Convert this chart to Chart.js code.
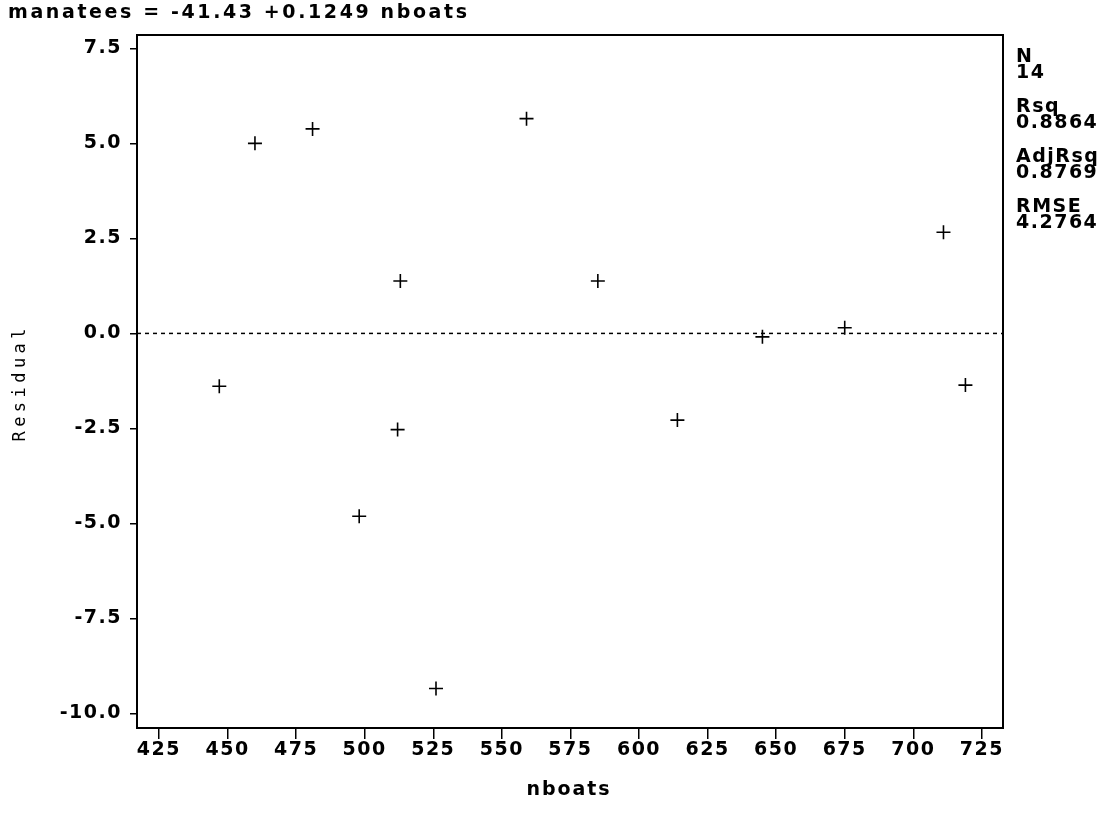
<!DOCTYPE html>
<html>
<head>
<meta charset="utf-8">
<script src="https://cdn.jsdelivr.net/npm/chart.js@4/dist/chart.umd.min.js"></script>
<style>
html,body{margin:0;padding:0;background:#fff;}
canvas{display:block;}
</style>
</head>
<body>
<canvas id="c" width="1111" height="831"></canvas>
<script>
// ---- data ----
const nboats   = [447, 460, 481, 498, 513, 512, 526, 559, 585, 614, 645, 675, 711, 719];
const residual = [-1.39, 5.00, 5.38, -4.81, 1.38, -2.53, -9.34, 5.65, 1.38, -2.28, -0.09, 0.15, 2.66, -1.36];
const xTicks = [425, 450, 475, 500, 525, 550, 575, 600, 625, 650, 675, 700, 725];
const yTicks = [-10, -7.5, -5, -2.5, 0, 2.5, 5, 7.5];
const titleText = 'manatees = -41.43 +0.1249 nboats';
const xTitle = 'nboats';
const yTitle = 'Residual';
const statLabels = ['N', '14', 'Rsq', '0.8864', 'AdjRsq', '0.8769', 'RMSE', '4.2764'];

const BOLD = 'bold 19px "DejaVu Sans"';

function spacedText(ctx, text, x, y, font, target, align) {
  ctx.save();
  ctx.font = font;
  ctx.letterSpacing = '0px';
  const w = ctx.measureText(text).width;
  const n = text.length;
  const ls = target != null ? (target - w) / Math.max(n - 1, 1) : 0;
  ctx.letterSpacing = ls + 'px';
  ctx.textBaseline = 'middle';
  ctx.textAlign = 'left';
  let total = w + ls * (n - 1);
  let sx = x;
  if (align === 'center') sx = x - total / 2;
  ctx.fillStyle = '#000';
  ctx.fillText(text, sx, y);
  ctx.restore();
}

const decor = {
  id: 'decor',
  beforeDraw(chart) {
    chart.ctx.letterSpacing = '1.5px';
  },
  beforeDatasetsDraw(chart) {
    const {ctx, chartArea, scales} = chart;
    const y0 = scales.y.getPixelForValue(0);
    ctx.save();
    ctx.strokeStyle = '#000';
    ctx.lineWidth = 1.5;
    ctx.setLineDash([4, 4]);
    ctx.beginPath();
    ctx.moveTo(chartArea.left, y0);
    ctx.lineTo(chartArea.right, y0);
    ctx.stroke();
    ctx.restore();
  },
  afterDraw(chart) {
    const {ctx, chartArea} = chart;
    ctx.save();
    ctx.strokeStyle = '#000';
    ctx.lineWidth = 2;
    ctx.strokeRect(chartArea.left, chartArea.top, chartArea.right - chartArea.left, chartArea.bottom - chartArea.top);
    ctx.restore();
    // title
    spacedText(ctx, titleText, 8, 13, BOLD, 459, 'left');
    // x title
    spacedText(ctx, xTitle, 568, 790, BOLD, 83, 'center');
    // y title (rotated)
    ctx.save();
    ctx.translate(21, 385);
    ctx.rotate(-Math.PI / 2);
    spacedText(ctx, yTitle, 0, 0, '17px "DejaVu Sans Mono"', 113, 'center');
    ctx.restore();
    // stats
    const ys = [57, 73, 107, 123, 157, 173, 207, 223];
    statLabels.forEach((s, i) => {
      ctx.save();
      ctx.font = BOLD;
      ctx.letterSpacing = '1.5px';
      ctx.textBaseline = 'middle';
      ctx.textAlign = 'left';
      ctx.fillStyle = '#000';
      ctx.fillText(s, 1016, ys[i]);
      ctx.restore();
    });
  }
};

new Chart(document.getElementById('c'), {
  type: 'scatter',
  data: {
    datasets: [{
      data: nboats.map((x, i) => ({x: x, y: residual[i]})),
      pointStyle: 'cross',
      pointRadius: 7,
      pointHoverRadius: 7,
      borderColor: '#000',
      backgroundColor: '#000',
      borderWidth: 1.6
    }]
  },
  options: {
    responsive: false,
    animation: false,
    events: [],
    layout: {padding: {top: 35, right: 108, left: 0, bottom: 0}},
    plugins: {legend: {display: false}, tooltip: {enabled: false}, title: {display: false}},
    scales: {
      x: {
        type: 'linear',
        min: 417,
        max: 732.7,
        afterBuildTicks: s => { s.ticks = xTicks.map(v => ({value: v})); },
        afterFit: s => { s.height = 103; },
        grid: {drawOnChartArea: false, drawTicks: true, tickLength: 11, color: '#000', lineWidth: 1.5},
        border: {display: true, color: '#000', width: 2},
        ticks: {color: '#000', font: {family: 'DejaVu Sans', weight: 'bold', size: 19}, padding: 0,
                maxRotation: 0, autoSkip: false, callback: v => String(v)}
      },
      y: {
        type: 'linear',
        min: -10.38,
        max: 7.85,
        afterBuildTicks: s => { s.ticks = yTicks.map(v => ({value: v})); },
        afterFit: s => { s.width = 137; },
        grid: {drawOnChartArea: false, drawTicks: true, tickLength: 7, color: '#000', lineWidth: 1.5},
        border: {display: true, color: '#000', width: 2},
        ticks: {color: '#000', font: {family: 'DejaVu Sans', weight: 'bold', size: 19}, padding: 8,
                autoSkip: false, callback: v => v.toFixed(1)}
      }
    }
  },
  plugins: [decor]
});
</script>
</body>
</html>
